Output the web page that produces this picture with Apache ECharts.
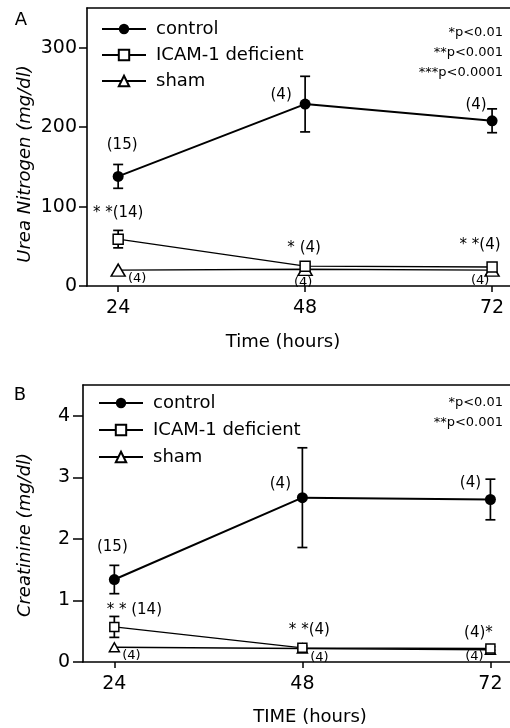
<!DOCTYPE html>
<html><head><meta charset="utf-8">
<script src="https://cdn.jsdelivr.net/npm/echarts@6/dist/echarts.min.js"></script>
<style>html,body{margin:0;padding:0;background:#fff}#c{width:510px;height:728px}</style>
</head><body><div id="c"></div>
<script>
// ---- data ----
const hours = [24, 48, 72];
const xTicks = [24, 48, 72];
const bunTicks = [0, 100, 200, 300];
const crTicks = [0, 1, 2, 3, 4];
const groupNames = ['control', 'ICAM-1 deficient', 'sham'];

// Panel A: urea nitrogen (mg/dl)
const bunControl = [138, 229, 208];
const bunControlErr = [15, 35, 15];
const bunIcam = [59, 25, 24];
const bunIcamErr = [11, 3, 3];
const bunSham = [20, 21, 20];
const bunControlNote = ['(15)', '(4)', '(4)'];
const bunIcamNote = ['* *(14)', '* (4)', '* *(4)'];
const bunShamNote = ['(4)', '(4)', '(4)'];
const bunPNotes = ['*p<0.01', '**p<0.001', '***p<0.0001'];

// Panel B: creatinine (mg/dl)
const crControl = [1.34, 2.67, 2.64];
const crControlErr = [0.23, 0.81, 0.33];
const crIcam = [0.57, 0.23, 0.22];
const crIcamErr = [0.17, 0.03, 0.03];
const crSham = [0.24, 0.22, 0.20];
const crControlNote = ['(15)', '(4)', '(4)'];
const crIcamNote = ['* * (14)', '* *(4)', '(4)*'];
const crShamNote = ['(4)', '(4)', '(4)'];
const crPNotes = ['*p<0.01', '**p<0.001'];

// ---- layout / style ----
const FONT = 'DejaVu Sans';
const gridA = {left: 87, top: 8, right: 0, height: 278};
const gridB = {left: 83, top: 385, right: 0, height: 277};
const offA = {
  control: [[4, -31], [-24, -9], [-16, -16]],
  icam: [[0, -26], [-1, -18], [-12, -22]],
  sham: [[19, 9], [-2, 13], [-12, 11]]
};
const offB = {
  control: [[-2, -32], [-22, -14], [-20, -16]],
  icam: [[20, -17], [7, -18], [-12, -15]],
  sham: [[17, 8], [17, 9], [-16, 7]]
};

function pts(vals, notes, offs, fs) {
  return hours.map((h, i) => ({
    value: [h, vals[i]],
    label: {show: true, position: 'inside', formatter: notes[i], offset: offs[i],
            fontSize: fs, fontFamily: FONT, color: '#000'}
  }));
}
function lineSeries(name, gi, vals, notes, offs, kind, fs, small) {
  const base = {
    name, type: 'line', xAxisIndex: gi * 2, yAxisIndex: gi, z: 3,
    data: pts(vals, notes, offs, fs), showSymbol: true, animation: false,
    emphasis: {disabled: true}
  };
  if (kind === 'control') {
    return Object.assign(base, {symbol: 'circle', symbolSize: 11,
      itemStyle: {color: '#000', borderColor: '#000', borderWidth: 0},
      lineStyle: {color: '#000', width: 2}});
  } else if (kind === 'icam') {
    return Object.assign(base, {symbol: 'rect', symbolSize: small ? 9 : 10,
      itemStyle: {color: '#fff', borderColor: '#000', borderWidth: 1.5},
      lineStyle: {color: '#000', width: 1.4}, z: 4});
  }
  return Object.assign(base, {symbol: 'triangle', symbolSize: small ? [10, 9] : [14, 12],
    itemStyle: {color: '#fff', borderColor: '#000', borderWidth: 1.5},
    lineStyle: {color: '#000', width: 1.4}});
}
function errSeries(gi, vals, errs) {
  return {
    type: 'custom', xAxisIndex: gi * 2, yAxisIndex: gi, z: 2, silent: true, animation: false,
    data: hours.map((h, i) => [h, vals[i] - errs[i], vals[i] + errs[i]]),
    encode: {x: 0, y: [1, 2]},
    renderItem: (p, api) => {
      const x = api.value(0);
      const a = api.coord([x, api.value(2)]), b = api.coord([x, api.value(1)]);
      const w = 5, st = {stroke: '#000', lineWidth: 1.7};
      return {type: 'group', children: [
        {type: 'line', shape: {x1: a[0], y1: a[1], x2: b[0], y2: b[1]}, style: st},
        {type: 'line', shape: {x1: a[0] - w, y1: a[1], x2: a[0] + w, y2: a[1]}, style: st},
        {type: 'line', shape: {x1: b[0] - w, y1: b[1], x2: b[0] + w, y2: b[1]}, style: st}
      ]};
    }
  };
}
const axLine = {show: true, onZero: false, lineStyle: {color: '#000', width: 1.6}};
function xBottom(gi, max) {
  return {type: 'value', gridIndex: gi, min: 20, max, position: 'bottom',
    axisLine: axLine,
    axisTick: {show: true, customValues: xTicks, length: 6, inside: false, lineStyle: {color: '#000', width: 1.5}},
    axisLabel: {show: true, customValues: xTicks, margin: 13, color: '#000', fontSize: 19, fontFamily: FONT},
    splitLine: {show: false}};
}
function xTop(gi, max) {
  return {type: 'value', gridIndex: gi, min: 20, max, position: 'top',
    axisLine: axLine, axisTick: {show: false}, axisLabel: {show: false}, splitLine: {show: false}};
}
function yAx(gi, max, ticks, tickLen, margin) {
  return {type: 'value', gridIndex: gi, min: 0, max, position: 'left',
    axisLine: axLine,
    axisTick: {show: true, customValues: ticks, length: tickLen, inside: false, lineStyle: {color: '#000', width: 1.5}},
    axisLabel: {show: true, customValues: ticks, margin, color: '#000', fontSize: 19, fontFamily: FONT},
    splitLine: {show: false}};
}
function legendCfg(top, gap, left) {
  return {top, left, orient: 'vertical', itemWidth: 44, itemHeight: 13, itemGap: gap,
    data: groupNames, selectedMode: false,
    textStyle: {fontSize: 18, fontFamily: FONT, color: '#000', padding: [0, 0, 0, 5]}};
}
function txt(x, y, s, fs, extra) {
  return Object.assign({type: 'text', x, y, silent: true,
    style: Object.assign({text: s, fontSize: fs, fontFamily: FONT, fill: '#000',
      textAlign: 'center', textVerticalAlign: 'middle'}, extra || {})});
}
function pNotes(list, y0, gap) {
  return list.map((s, i) => txt(503, y0 + i * gap, s, 13, {textAlign: 'right'}));
}

const option = {
  backgroundColor: '#fff',
  animation: false,
  grid: [gridA, gridB],
  xAxis: [xBottom(0, 74.3), xTop(0, 74.3), xBottom(1, 74.5), xTop(1, 74.5)],
  yAxis: [yAx(0, 350, bunTicks, 8, 10), yAx(1, 4.5, crTicks, 10, 13)],
  legend: [legendCfg(15, 8, 96), legendCfg(389, 9, 93)],
  series: [
    errSeries(0, bunControl, bunControlErr),
    errSeries(0, bunIcam, bunIcamErr),
    lineSeries(groupNames[2], 0, bunSham, bunShamNote, offA.sham, 'sham', 13, false),
    lineSeries(groupNames[1], 0, bunIcam, bunIcamNote, offA.icam, 'icam', 15, false),
    lineSeries(groupNames[0], 0, bunControl, bunControlNote, offA.control, 'control', 15, false),
    errSeries(1, crControl, crControlErr),
    errSeries(1, crIcam, crIcamErr),
    lineSeries(groupNames[2], 1, crSham, crShamNote, offB.sham, 'sham', 13, true),
    lineSeries(groupNames[1], 1, crIcam, crIcamNote, offB.icam, 'icam', 15, true),
    lineSeries(groupNames[0], 1, crControl, crControlNote, offB.control, 'control', 15, true)
  ],
  graphic: [
    txt(21, 20, 'A', 18),
    txt(20, 395, 'B', 18),
    txt(25, 164, 'Urea Nitrogen (mg/dl)', 18, {fontStyle: 'italic'}),
    txt(25, 535, 'Creatinine (mg/dl)', 18, {fontStyle: 'italic'}),
    txt(283, 342, 'Time (hours)', 18),
    txt(310, 717, 'TIME (hours)', 18),
    ...pNotes(bunPNotes, 33, 20),
    ...pNotes(crPNotes, 403, 20)
  ]
};
// rotate y titles
option.graphic[2].rotation = Math.PI / 2;
option.graphic[3].rotation = Math.PI / 2;

const chart = echarts.init(document.getElementById('c'), null, {renderer: 'canvas'});
chart.setOption(option);
</script>
</body></html>
